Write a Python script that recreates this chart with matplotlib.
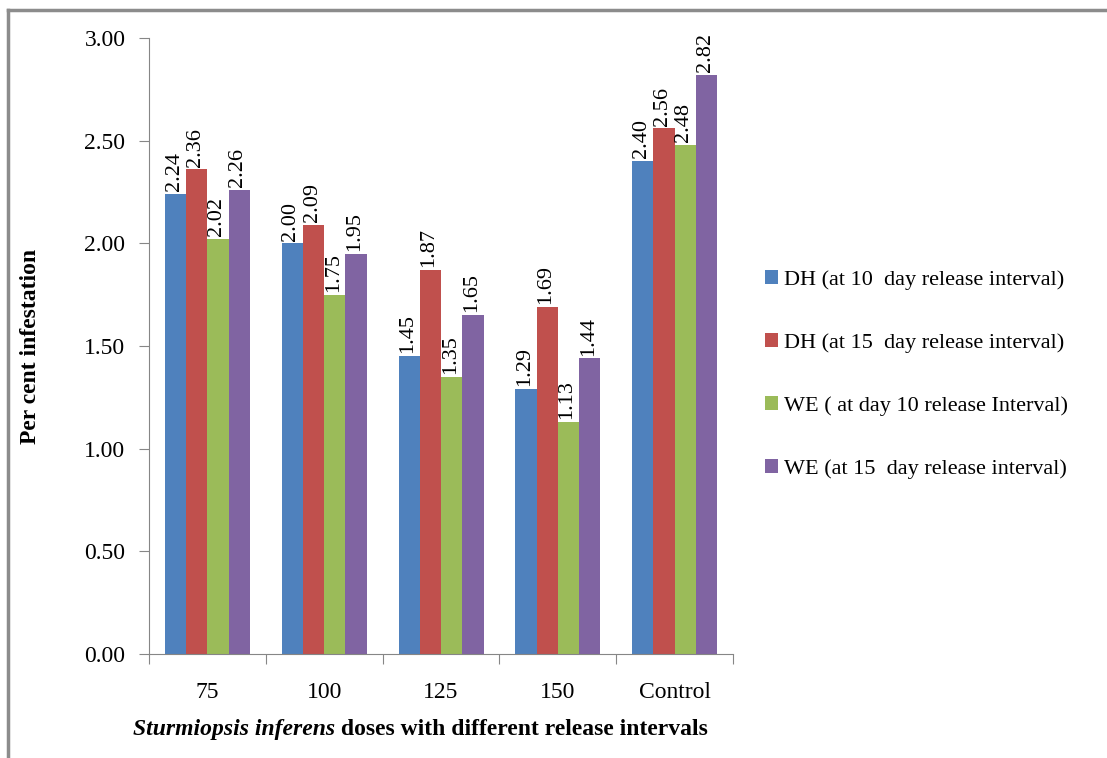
import numpy as np
import matplotlib.pyplot as plt
from matplotlib.lines import Line2D

plt.rcParams['font.family'] = 'Liberation Serif'

doses = ["75", "100", "125", "150", "Control"]
series_names = [
    "DH (at 10  day release interval)",
    "DH (at 15  day release interval)",
    "WE ( at day 10 release Interval)",
    "WE (at 15  day release interval)",
]
dh_10 = [2.24, 2.00, 1.45, 1.29, 2.40]
dh_15 = [2.36, 2.09, 1.87, 1.69, 2.56]
we_10 = [2.02, 1.75, 1.35, 1.13, 2.48]
we_15 = [2.26, 1.95, 1.65, 1.44, 2.82]
colors = ["#4F81BD", "#C0504D", "#9BBB59", "#8064A2"]

fig = plt.figure(figsize=(11.07, 7.58), dpi=100)
ax = fig.add_axes([0.1346, 0.1372, 0.5276, 0.8127])

x = np.arange(len(doses))
width = 1 / 5.5
for i, (vals, col, name) in enumerate(zip([dh_10, dh_15, we_10, we_15], colors, series_names)):
    pos = x + (i - 1.5) * width
    bars = ax.bar(pos, vals, width, color=col, label=name)
    for b, v in zip(bars, vals):
        ax.annotate(f"{v:.2f}", (b.get_x() + b.get_width() / 2, v),
                    xytext=(-1, 2), textcoords="offset points",
                    rotation=90, ha="center", va="bottom", fontsize=16)

ax.set_xlim(-0.5, len(doses) - 0.5)
ax.set_ylim(0, 3)
ax.set_yticks(np.arange(0, 3.01, 0.5))
ax.set_yticklabels([f"{t:.2f}" for t in np.arange(0, 3.01, 0.5)], fontsize=17)

# category boundaries get the tick marks, centres carry the labels
ax.set_xticks(np.arange(-0.5, len(doses)), [""] * (len(doses) + 1))
ax.set_xticks(x, doses, minor=True, fontsize=17)
ax.tick_params(axis="x", which="major", length=7, color="#868686", direction="out")
ax.tick_params(axis="x", which="minor", length=0, pad=20)
ax.tick_params(axis="y", length=7, color="#868686", direction="out", pad=10)

for s in ["top", "right"]:
    ax.spines[s].set_visible(False)
for s in ["left", "bottom"]:
    ax.spines[s].set_color("#868686")

ax.set_ylabel("Per cent infestation", fontsize=17, fontweight="bold")
ax.yaxis.set_label_coords(-0.185, 0.5)

# x label: italic species name followed by upright text
fig.canvas.draw()
r = fig.canvas.get_renderer()
t1 = fig.text(0, 0.030, "Sturmiopsis inferens", fontsize=17, fontweight="bold",
              fontstyle="italic", va="baseline")
t2 = fig.text(0, 0.030, " doses with different release intervals", fontsize=17,
              fontweight="bold", va="baseline")
w1 = t1.get_window_extent(r).width / fig.bbox.width
w2 = t2.get_window_extent(r).width / fig.bbox.width
x0 = 0.38 - (w1 + w2) / 2
t1.set_x(x0)
t2.set_x(x0 + w1)

ax.legend(loc="center left", bbox_to_anchor=(0.683, 0.506), bbox_transform=fig.transFigure,
          frameon=False, fontsize=16, handlelength=0.6, handleheight=0.6,
          handletextpad=0.25, labelspacing=1.93, borderaxespad=0)

# outer frame, only left and top edges visible
fig.add_artist(Line2D([0.0075, 0.0075], [0, 0.987], color="#8c8c8c", lw=2.5,
                      transform=fig.transFigure))
fig.add_artist(Line2D([0.0075, 1], [0.987, 0.987], color="#8c8c8c", lw=2.5,
                      transform=fig.transFigure))

fig.savefig("out.png", dpi=100)
